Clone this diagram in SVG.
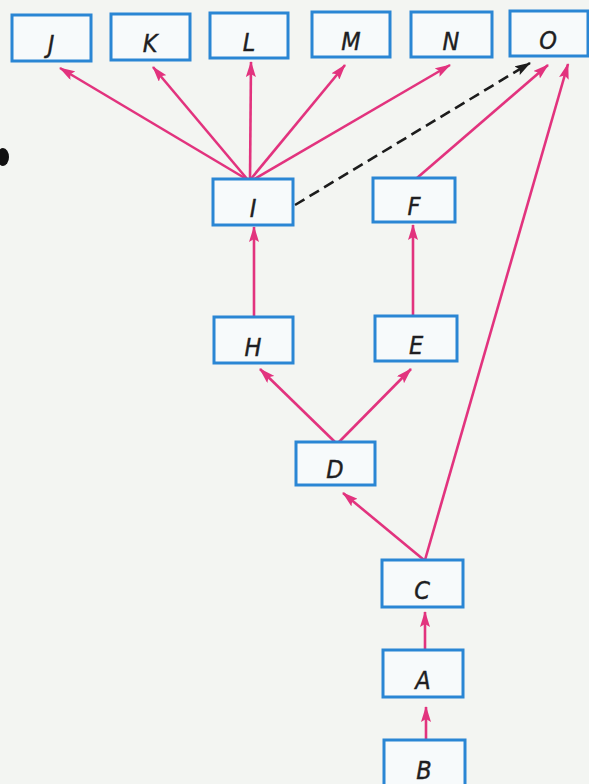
<svg xmlns="http://www.w3.org/2000/svg" width="589" height="784" viewBox="0 0 589 784">
  <style>
    .box rect { fill: #f7fafb; stroke: #2a86d4; stroke-width: 3; }
    .box text { font-family: "DejaVu Sans Condensed", "DejaVu Sans", "Liberation Sans", sans-serif; font-style: italic; font-size: 25px; fill: #1e1e22; stroke: #1e1e22; stroke-width: 0.4; text-anchor: middle; }
    .link { stroke: #e2337e; stroke-width: 2.6; fill: none; marker-end: url(#head); }
    .dash { stroke: #1c1c1c; stroke-width: 2.6; fill: none; stroke-dasharray: 11 6; marker-end: url(#headDark); }
  </style>
  <defs>
    <marker id="head" viewBox="0 0 16 10" refX="15" refY="5" markerWidth="16" markerHeight="10" markerUnits="userSpaceOnUse" orient="auto">
      <path d="M0,0 L16,5 L0,10 L3,5 Z" fill="#e2337e"/>
    </marker>
    <marker id="headDark" viewBox="0 0 16 10" refX="15" refY="5" markerWidth="16" markerHeight="10" markerUnits="userSpaceOnUse" orient="auto">
      <path d="M0,0 L16,5 L0,10 L3,5 Z" fill="#1c1c1c"/>
    </marker>
  </defs>

  <rect width="589" height="784" fill="#f3f5f2"/>
  <ellipse cx="3" cy="157" rx="6" ry="9" fill="#111"/>

  <g id="connectors">
    <line class="link" x1="248" y1="180" x2="60" y2="68"/>
    <line class="link" x1="248" y1="180" x2="153" y2="67"/>
    <line class="link" x1="250" y1="180" x2="251" y2="62"/>
    <line class="link" x1="250" y1="180" x2="345" y2="65"/>
    <line class="link" x1="251" y1="181" x2="450" y2="65"/>
    <line class="dash" x1="295" y1="205" x2="530" y2="63"/>
    <line class="link" x1="417" y1="178" x2="548" y2="65"/>
    <line class="link" x1="425" y1="560" x2="568" y2="64"/>
    <line class="link" x1="254" y1="317" x2="254" y2="227"/>
    <line class="link" x1="413" y1="316" x2="413" y2="225"/>
    <line class="link" x1="336" y1="443" x2="260" y2="369"/>
    <line class="link" x1="338" y1="443" x2="411" y2="369"/>
    <line class="link" x1="424" y1="560" x2="343" y2="493"/>
    <line class="link" x1="425" y1="650" x2="425" y2="612"/>
    <line class="link" x1="426" y1="740" x2="426" y2="707"/>
  </g>

  <g id="node-J" class="box"><rect x="12" y="15" width="79" height="46"/><text x="51" y="53">J</text></g>
  <g id="node-K" class="box"><rect x="111" y="14" width="79" height="46"/><text x="150" y="52">K</text></g>
  <g id="node-L" class="box"><rect x="210" y="13" width="78" height="45"/><text x="249" y="51">L</text></g>
  <g id="node-M" class="box"><rect x="312" y="12" width="78" height="45"/><text x="351" y="50">M</text></g>
  <g id="node-N" class="box"><rect x="411" y="12" width="81" height="45"/><text x="451" y="50">N</text></g>
  <g id="node-O" class="box"><rect x="510" y="11" width="78" height="45"/><text x="548" y="49">O</text></g>

  <g id="node-I" class="box"><rect x="213" y="179" width="80" height="46"/><text x="253" y="217">I</text></g>
  <g id="node-F" class="box"><rect x="373" y="178" width="82" height="44"/><text x="414" y="215">F</text></g>

  <g id="node-H" class="box"><rect x="214" y="317" width="79" height="46"/><text x="253" y="356">H</text></g>
  <g id="node-E" class="box"><rect x="375" y="316" width="82" height="45"/><text x="416" y="354">E</text></g>

  <g id="node-D" class="box"><rect x="296" y="442" width="79" height="43"/><text x="335" y="478">D</text></g>

  <g id="node-C" class="box"><rect x="382" y="560" width="81" height="47"/><text x="422" y="599">C</text></g>
  <g id="node-A" class="box"><rect x="383" y="650" width="80" height="47"/><text x="423" y="689">A</text></g>
  <g id="node-B" class="box"><rect x="384" y="740" width="81" height="48"/><text x="424" y="779">B</text></g>
</svg>
